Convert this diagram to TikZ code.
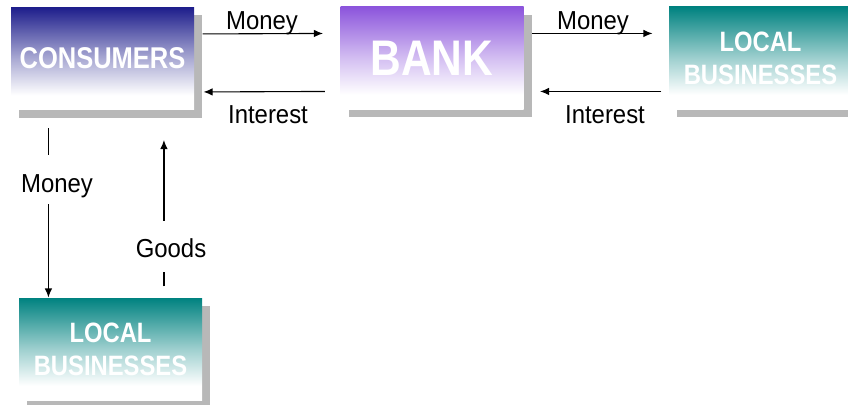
\documentclass[tikz,border=0pt]{standalone}
\usepackage{fontspec}
\usetikzlibrary{shadows,arrows.meta}

\newfontfamily\boxfont{Liberation Sans}[FakeStretch=0.85]
\newfontfamily\lblfont{Liberation Sans}[FakeStretch=0.92]

\definecolor{consnavy}{RGB}{30,30,140}
\definecolor{bankpurple}{RGB}{140,85,220}
\definecolor{bizteal}{RGB}{0,130,128}
\colorlet{sectortop}{black}

% white at the foot, full colour at the top
\pgfdeclareverticalshading[sectortop]{sectorshade}{100bp}{color(0bp)=(white); color(25bp)=(white); color(32bp)=(white);
	color(50bp)=(sectortop!38!white); color(75bp)=(sectortop); color(100bp)=(sectortop)}

\begin{document}
\begin{tikzpicture}[x=1pt, y=-1pt, -{Latex[length=9pt,width=7.5pt]}, line width=1.1pt,
	sector/.style={minimum width=183pt, minimum height=102pt, inner sep=0pt,
		text=white, align=center,
		font={\boxfont\bfseries\fontsize{28}{33}\selectfont},
		drop shadow={shadow xshift=8pt, shadow yshift=-8pt, fill=black!28, opacity=1}},
	grad/.style={/utils/exec={\colorlet{sectortop}{#1}}, shading=sectorshade, shade},
	flow/.style={font={\lblfont\fontsize{26}{30}\selectfont}, inner sep=0pt, anchor=base}]

\useasboundingbox (0,0) rectangle (848,404);

\node[sector, grad=consnavy, font={\boxfont\bfseries\fontsize{30}{36}\selectfont}]	(cons)		at (102.5,58.5)	{CONSUMERS};
\node[sector, grad=bankpurple, font={\boxfont\bfseries\fontsize{50}{60}\selectfont}]	(bank)		at (432,58)		{BANK};
\node[sector, grad=bizteal]	(bizright)	at (760.5,58)	{LOCAL\\BUSINESSES};
\node[sector, grad=bizteal]	(bizdown)	at (110.5,349)	{LOCAL\\BUSINESSES};

% consumers <-> bank
\draw ([xshift=8pt,yshift=-27pt]cons.north east)		-- ([xshift=-17pt,yshift=-27pt]bank.north west);
\draw ([xshift=-15pt,yshift=-85pt]bank.north west)		-- ([xshift=9pt,yshift=-85pt]cons.north east);
% bank <-> local businesses
\draw ([xshift=8pt,yshift=-27pt]bank.north east)		-- ([xshift=-16pt,yshift=-27pt]bizright.north west);
\draw ([xshift=-7pt,yshift=-85pt]bizright.north west)	-- ([xshift=16pt,yshift=-85pt]bank.north east);
% consumers <-> local businesses
\draw[shorten <=18pt]	([xshift=38pt]cons.south west)		-- ([xshift=30pt]bizdown.north west);
\draw[shorten <=11pt, shorten >=30pt]	([xshift=145.5pt]bizdown.north west)	-- ([xshift=153.5pt]cons.south west);

\node[flow]	(money1)	at (262,30)		{Money};
\node[flow]	(interest1)	at (268,123)	{Interest};
\node[flow]	(money2)	at (593,30)		{Money};
\node[flow]	(interest2)	at (605,123)	{Interest};
\node[flow, fill=white, text height=37pt, text depth=12pt]	(money3)	at (57,192)		{Money};
\node[flow, fill=white, text height=36pt, text depth=15pt]	(goods)		at (171,257)	{Goods};

\end{tikzpicture}
\end{document}
